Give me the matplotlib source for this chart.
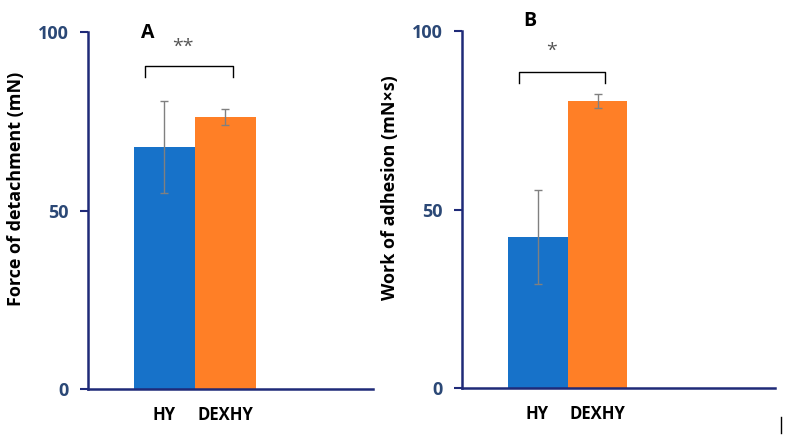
import numpy as np
import matplotlib
matplotlib.use('Agg')
import matplotlib.pyplot as plt
import matplotlib.transforms as mtransforms
from matplotlib.lines import Line2D

# data
groups = ['HY', 'DEXHY']
force = [67.8, 76.2]
force_err = [13.0, 2.2]
work = [42.3, 80.4]
work_err = [13.2, 2.0]

panel_letters = ['A', 'B']
stars = ['**', '*']
ylabels = ['Force of detachment (mN)', 'Work of adhesion (mN\u00d7s)']

blue = '#1772C9'
orange = '#FF7F26'
navy = '#1F2A78'
tickcol = '#2B4876'

plt.rcParams['font.family'] = ['Open Sans', 'DejaVu Sans']

fig = plt.figure(figsize=(7.9, 4.44), dpi=100)
ax1 = fig.add_axes([0.1114, 0.1239, 0.3608, 0.804])
ax2 = fig.add_axes([0.5848, 0.1261, 0.3962, 0.804])

panels = [
    (ax1, force, force_err, (-1.25, 3.42), 90.5, 87.4, (0.30, 95.8), (-0.27, 99.7)),
    (ax2, work, work_err, (-1.26, 3.96), 88.5, 85.4, (0.23, 94.4), (-0.125, 102.8)),
]

x = np.arange(len(groups))
for i, (ax, vals, errs, xl, brk_top, brk_bot, star_xy, let_xy) in enumerate(panels):
    ax.bar(x, vals, width=1.0, color=[blue, orange],
           yerr=errs, ecolor='#808080', capsize=3,
           error_kw={'elinewidth': 1.0, 'capthick': 1.0})
    ax.set_xlim(*xl)
    ax.set_ylim(0, 100)
    ax.set_yticks([0, 50, 100])
    ax.set_xticks(x)
    ax.set_xticklabels(groups, fontsize=12, fontweight='bold', color='black')
    # labels sit a bit off the bar centres in the original
    for lab, dx in zip(ax.get_xticklabels(), [-8, 3]):
        lab.set_transform(lab.get_transform() +
                          mtransforms.ScaledTranslation(dx / 100, 0, fig.dpi_scale_trans))
    for lab in ax.get_yticklabels():
        lab.set_fontsize(13)
        lab.set_fontweight('bold')
        lab.set_color(tickcol)
    ax.tick_params(axis='x', length=0, pad=12)
    ax.tick_params(axis='y', length=6, width=1.5, color=navy, pad=8)
    for s in ['top', 'right']:
        ax.spines[s].set_visible(False)
    for s in ['left', 'bottom']:
        ax.spines[s].set_color(navy)
        ax.spines[s].set_linewidth(1.8)
    ax.set_ylabel(ylabels[i], fontsize=13, fontweight='bold')
    ax.yaxis.set_label_coords(-63 / (ax.get_position().width * 790), 0.56)

    # significance bracket
    bx0, bx1 = x[0] - 0.31, x[1] + 0.13
    ax.plot([bx0, bx0, bx1, bx1], [brk_bot, brk_top, brk_top, brk_bot],
            color='black', lw=1.0, clip_on=False)
    ax.text(star_xy[0], star_xy[1], stars[i], ha='center', va='center',
            fontsize=14, color='#555555')

    ax.text(let_xy[0], let_xy[1], panel_letters[i], fontsize=14, fontweight='bold',
            ha='center', va='center', clip_on=False)

# stray mark in lower right corner
fig.add_artist(Line2D([781 / 790, 781 / 790], [1 - 417 / 444, 1 - 433 / 444],
                      color='black', lw=1.0))

fig.savefig('out.png', dpi=100)
